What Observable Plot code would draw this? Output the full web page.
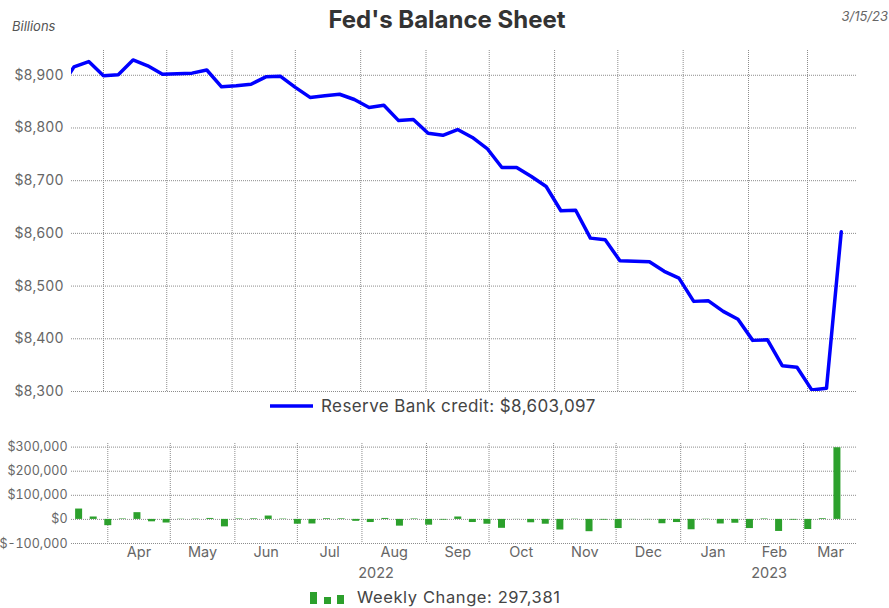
<!DOCTYPE html>
<html>
<head>
<meta charset="utf-8">
<script src="https://cdn.jsdelivr.net/npm/d3@7"></script>
<script src="https://cdn.jsdelivr.net/npm/@observablehq/plot@0.6"></script>
<style>
  body { margin: 0; background: #fff; }
  #wrap { position: relative; width: 889px; height: 608px; overflow: hidden; background: #fff; }
  #wrap > svg { position: absolute; left: 0; }
</style>
</head>
<body>
<div id="wrap"></div>
<script>
// ---- data (weekly; first week lies just left of the visible range and is clipped) ----
const weeks = [
  "2022-03-11","2022-03-18","2022-03-25","2022-04-01","2022-04-08","2022-04-15","2022-04-22","2022-04-29",
  "2022-05-06","2022-05-13","2022-05-20","2022-05-27","2022-06-03","2022-06-10","2022-06-17","2022-06-24",
  "2022-07-01","2022-07-08","2022-07-15","2022-07-22","2022-07-29","2022-08-05","2022-08-12","2022-08-19",
  "2022-08-26","2022-09-02","2022-09-09","2022-09-16","2022-09-23","2022-09-30","2022-10-07","2022-10-14",
  "2022-10-21","2022-10-28","2022-11-04","2022-11-11","2022-11-18","2022-11-25","2022-12-02","2022-12-09",
  "2022-12-16","2022-12-23","2022-12-30","2023-01-06","2023-01-13","2023-01-20","2023-01-27","2023-02-03",
  "2023-02-10","2023-02-17","2023-02-24","2023-03-03","2023-03-10","2023-03-17"
];
// Reserve Bank credit, $ billions
const reserveCredit = [
  8872, 8916, 8926, 8899, 8901, 8929, 8918, 8902, 8903, 8904, 8910, 8878, 8880, 8883, 8897, 8898,
  8877, 8858, 8861, 8864, 8854, 8839, 8843, 8814, 8816, 8790, 8786, 8797, 8782, 8761, 8725, 8725,
  8708, 8689, 8643, 8644, 8591, 8588, 8548, 8547, 8546, 8528, 8515, 8471, 8472, 8452, 8437, 8397,
  8398, 8349, 8346, 8303, 8306, 8603
];
// Weekly change, $ millions (one per week, starting with the second week)
const weeklyChange = [
  43000, 10000, -26000, 2000, 28000, -10000, -15000, 1000, 1500, 4000, -31000, 2000, 2500, 14000, 1500,
  -20000, -19000, 3000, 2500, -8000, -13000, 4000, -28000, 2000, -24000, -3000, 10000, -13000, -20000,
  -37000, -500, -14000, -20000, -44000, 1000, -51000, -3000, -38000, -1000, -1000, -18000, -13000, -43000,
  1000, -19000, -16000, -38000, 2000, -50000, -3000, -42000, 3000, 297381
];
const creditTicks = [8300, 8400, 8500, 8600, 8700, 8800, 8900];
const changeTicks = [-100000, 0, 100000, 200000, 300000];
const monthStarts = ["2022-04-01","2022-05-01","2022-06-01","2022-07-01","2022-08-01","2022-09-01",
  "2022-10-01","2022-11-01","2022-12-01","2023-01-01","2023-02-01","2023-03-01"];
const monthNames = ["Apr","May","Jun","Jul","Aug","Sep","Oct","Nov","Dec","Jan","Feb","Mar"];
const yearStarts = ["2022-01-01","2023-01-01"];
const yearNames = ["2022","2023"];
const titleText = "Fed's Balance Sheet";
const unitText = "Billions";
const dateText = "3/15/23";
const legendCredit = "Reserve Bank credit: $8,603,097";
const legendChange = "Weekly Change: 297,381";

// ---- build ----
const parse = d3.utcParse("%Y-%m-%d");
const creditData = weeks.map((w, i) => ({date: parse(w), value: reserveCredit[i]}));
const changeData = weeklyChange.map((v, i) => ({date: parse(weeks[i + 1]), value: v}));
const gridX = monthStarts.map(parse);
const fmtDollar = d => "$" + d.toLocaleString("en-US");

const topDomain = [new Date("2022-03-16T19:40Z"), new Date("2023-03-24T17:00Z")];
const botDomain = [new Date("2022-03-14T14:00Z"), new Date("2023-03-26T21:00Z")];

// labels centred on the visible part of each month / year
const clampMid = (a, b, dom) => {
  const s = Math.max(+a, +dom[0]), e = Math.min(+b, +dom[1]);
  return new Date((s + e) / 2);
};
const monthLabels = monthNames.map((m, i) => ({
  label: m,
  date: clampMid(gridX[i], d3.utcMonth.offset(gridX[i], 1), botDomain)
}));
const yearLabels = yearNames.map((y, i) => ({
  label: y,
  date: clampMid(parse(yearStarts[i]), d3.utcYear.offset(parse(yearStarts[i]), 1), botDomain)
}));

const FONT = "Inter, 'Noto Sans', sans-serif";
const grid = {stroke: "#8c8c8c", strokeDasharray: "1,1", strokeWidth: 1};

const topPlot = Plot.plot({
  width: 889, height: 400,
  marginTop: 50, marginBottom: 9, marginLeft: 71, marginRight: 32,
  style: {fontFamily: FONT, fontSize: "14px", color: "#666", background: "transparent", overflow: "visible"},
  x: {type: "utc", domain: topDomain, axis: null},
  y: {domain: [8300, 8947]},
  marks: [
    Plot.ruleY(creditTicks, grid),
    Plot.ruleX(gridX, grid),
    Plot.line(creditData, {x: "date", y: "value", stroke: "#0000ff", strokeWidth: 3.5, clip: true}),
    Plot.axisY({ticks: creditTicks, tickFormat: fmtDollar, tickSize: 0, tickPadding: 8, label: null, fill: "#666"})
  ]
});
topPlot.style.top = "0px";

const botPlot = Plot.plot({
  width: 889, height: 160,
  marginTop: 13, marginBottom: 47, marginLeft: 71, marginRight: 32,
  style: {fontFamily: FONT, fontSize: "14px", color: "#666", background: "transparent", overflow: "visible"},
  x: {type: "utc", domain: botDomain, axis: null},
  y: {domain: [-100000, 315000]},
  marks: [
    Plot.ruleY(changeTicks, grid),
    Plot.ruleX(gridX, grid),
    Plot.ruleX(changeData, {x: "date", y1: 0, y2: "value", stroke: "#2ca02c", strokeWidth: 7}),
    Plot.axisY({ticks: changeTicks, tickFormat: fmtDollar, tickSize: 0, tickPadding: 4, label: null, fill: "#666", fontSize: 12.5}),
    Plot.text(monthLabels, {x: "date", text: "label", frameAnchor: "bottom", dy: 13, fill: "#666", fontSize: 14.5}),
    Plot.text(yearLabels, {x: "date", text: "label", frameAnchor: "bottom", dy: 34, fill: "#666", fontSize: 14.5})
  ]
});
botPlot.style.top = "430px";

const wrap = document.getElementById("wrap");
wrap.appendChild(topPlot);
wrap.appendChild(botPlot);

// ---- title, notes and legends ----
const ns = "http://www.w3.org/2000/svg";
const ov = document.createElementNS(ns, "svg");
ov.setAttribute("width", 889); ov.setAttribute("height", 608);
ov.style.top = "0px"; ov.style.pointerEvents = "none";
ov.style.fontFamily = FONT;
function addText(txt, x, y, attrs) {
  const t = document.createElementNS(ns, "text");
  t.setAttribute("x", x); t.setAttribute("y", y);
  for (const k in attrs) t.setAttribute(k, attrs[k]);
  t.textContent = txt; ov.appendChild(t);
}
function addEl(tag, attrs) {
  const e = document.createElementNS(ns, tag);
  for (const k in attrs) e.setAttribute(k, attrs[k]);
  ov.appendChild(e);
}
addText(titleText, 447, 28, {"text-anchor": "middle", "font-weight": 700, "font-size": 24, fill: "#333"});
addText(unitText, 12, 31, {"font-style": "italic", "font-size": 13, fill: "#555"});
addText(dateText, 888, 21, {"text-anchor": "end", "font-style": "italic", "font-size": 13, fill: "#666"});
addEl("line", {x1: 270, x2: 313, y1: 406, y2: 406, stroke: "#0000ff", "stroke-width": 3.5});
addText(legendCredit, 321, 412, {"font-size": 17, "letter-spacing": 0.4, fill: "#444"});
addEl("rect", {x: 310, y: 592, width: 7, height: 12, fill: "#2ca02c"});
addEl("rect", {x: 324, y: 597, width: 7, height: 7, fill: "#2ca02c"});
addEl("rect", {x: 337, y: 595, width: 7, height: 9, fill: "#2ca02c"});
addText(legendChange, 357, 603, {"font-size": 16.5, "letter-spacing": 0.6, fill: "#444"});
wrap.appendChild(ov);
</script>
</body>
</html>
